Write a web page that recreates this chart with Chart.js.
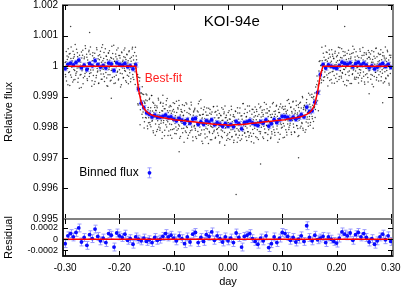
<!DOCTYPE html>
<html>
<head>
<meta charset="utf-8">
<script src="https://cdn.jsdelivr.net/npm/chart.js@4.4.1/dist/chart.umd.min.js"></script>
<style>
  html, body { margin: 0; padding: 0; background: #fff; }
  #wrap { width: 401px; height: 289px; }
</style>
</head>
<body>
<div id="wrap"><canvas id="koiChart" width="401" height="289"></canvas></div>
<script>
// Phase-folded light curve of KOI-94e, x in days from mid-transit.
// Flux values are deviations from 1 in units of 1e-5.
const binStart = -0.300;
const binStep = 0.005;

// best-fit transit model at every bin
const modelFlux = [
    0, 0, 0, 0, 0, 0, 0, 0, 0, 0, 0, 0, 0, 0, 0, 0, 0, 0, 0, 0, 0, 0, 0, 0, 0, 0, 0,
    -75, -118, -138, -149, -156, -160, -163, -165, -167, -169, -170, -172, -173, -175,
    -176, -177, -178, -179, -180, -181, -182, -183, -184, -185, -186, -187, -188, -189,
    -190, -191, -191, -192, -192, -193, -193, -192, -192, -191, -191, -190, -189, -188,
    -187, -186, -185, -184, -183, -182, -181, -180, -179, -178, -177, -176, -175, -173,
    -172, -170, -169, -167, -165, -162, -158, -152, -143, -125, -85, -30,
    0, 0, 0, 0, 0, 0, 0, 0, 0, 0, 0, 0, 0, 0, 0, 0, 0, 0, 0, 0, 0, 0, 0, 0, 0, 0
];

// binned flux minus model (the residual panel)
const binResid = [
    -8, 6, 10, 4, 12, 20, -5, 3, -11, 8, 1, 18, 5, -3, 2, -6, 10, 7, -14, 11,
    6, 3, 9, -2, 1, -9, 4, 0, -3, 2, -4, -1, -6, 3, -2, 0, 5, 10, 4, 7,
    2, -3, 6, 1, -8, 4, -5, 9, 12, -6, 3, -4, 8, 5, 13, -2, 6, 1, -5, 4,
    -3, 2, -6, 11, 3, -14, 5, 7, 10, 1, -4, -9, 2, -3, 6, -15, -8, 4, -6, 2,
    12, 10, 5, -2, 3, -5, 0, 6, -4, 24, 3, -3, 7, -1, 2, 5, -6, 4, 0, -4,
    -7, 2, 13, 9, 6, 11, -2, 8, 12, 4, 10, 3, -5, 1, -9, -3, 4, 9, -1, 6,
    -4
];
const binErr = 7;

// single cadences: residual from the model, one every 0.001 day
const rawStart = -0.300;
const rawStep = 0.001;
const rawResid = [
    12, -35, 48, -7, 22, -61, 30, 5, -18, 41, -29, 63, -4, 17, -52, 26, -11, 38, -44, 9,
    -23, 55, -6, 31, -40, 14, -72, 20, 3, -27, 46, -15, 36, -58, 8, 24, -33, 67, -2, -19,
    29, -47, 11, -9, 52, -24, 39, -13, 6, -66, 18, 44, -31, 1, 27, -50, 15, -38, 60, -8,
    -16, 34, -55, 21, -3, 49, -26, 13, -43, 70, -10, 25, -35, 4, 57, -21, 32, -64, 10, -28,
    43, -5, 19, -49, 28, -14, 65, -37, 7, 23, -57, 16, -1, 40, -30, 53, -20, 11, -45, 35,
    -12, 27, -68, 2, 46, -25, 14, -39, 31, -7, 59, -17, 22, -53, 37, -4, 18, -33, 50, -22,
    8, -41, 29, -11, 62, -36, 20, -2, 45, -60, 12, 33, -27, 5, -48, 39, -15, 26, -74, 17,
    30, -9, 51, -31, 3, 24, -44, 16, -19, 58, -6, 36, -56, 21, -13, 47, -28, 9, -38, 64,
    -20, 13, -51, 42, -3, 28, -63, 19, -8, 35, -42, 6, 54, -24, 15, -35, 49, -12, 23, -47,
    38, -16, 10, -58, 31, -1, 44, -29, 66, -10, 20, -40, 7, 27, -53, 41, -18, 2, -32, 55,
    -6, 25, -45, 14, -23, 61, -34, 9, 37, -15, 48, -59, 17, -4, 30, -26, 52, -9, 18, -70,
    33, -13, 4, -37, 56, -21, 12, -46, 26, -2, 40, -30, 63, -17, 8, -50, 21, 35, -11, 45,
    -27, 6, -54, 19, -8, 34, -41, 69, -14, 24, -36, 11, -61, 28, -5, 43, -22, 15, -48, 37,
    -3, 50, -19, 27, -65, 10, -30, 46, -7, 32, -52, 18, -12, 57, -25, 4, 39, -43, 13, -16,
    60, -28, 21, -10, 36, -56, 5, 29, -38, 14, -20, 51, -1, 42, -67, 23, -9, 31, -34, 16,
    -44, 8, 47, -24, 19, -3, 62, -39, 10, -15, 33, -50, 26, -6, 44, -31, 12, -57, 38, -18,
    2, -35, 54, -12, 28, -47, 17, -22, 68, -5, 35, -29, 9, -42, 24, -13, 59, -26, 6, -39,
    41, -8, 15, -60, 30, -2, 45, -33, 20, -17, 52, -45, 11, 37, -23, 3, -55, 27, -10, 48,
    -31, 18, -6, 39, -49, 25, -14, 64, -36, 7, 29, -11, 43, -62, 16, -27, 34, -3, 21, -53,
    13, -42, 57, -20, 5, 31, -38, 22, -9, 47, -28, 14, -71, 36, -4, 25, -46, 53, -15, 8,
    -24, 44, -12, 19, -58, 35, -1, 27, -43, 61, -16, 9, -34, 50, -21, 4, 38, -52, 17, -7,
    55, -30, 11, -48, 23, -5, 40, -26, 14, -63, 32, -10, 46, -37, 6, 28, -19, 66, -41, 20,
    -2, 34, -54, 12, -25, 49, -8, 30, -45, 18, -13, 58, -32, 3, 41, -22, 15, -60, 26, -11,
    37, -17, 7, -40, 53, -28, 21, -6, 45, -51, 10, 33, -24, 62, -14, 1, -47, 29, -35, 19,
    -9, 46, -29, 16, -65, 26, -3, 39, -21, 11, -44, 54, -18, 32, -7, 24, -56, 42, -12, 5,
    31, -50, 18, -1, 43, -34, 60, -15, 8, -39, 27, -23, 48, -10, 15, -61, 36, -5, 22, -46,
    14, -19, 52, -31, 9, -57, 24, -8, 41, -27, 65, -13, 3, -42, 30, -16, 47, -36, 12, -4,
    -38, 28, -11, 56, -22, 6, -49, 35, -2, 20, -33, 44, -59, 17, -7, 38, -25, 10, -52, 29,
    45, -14, 23, -43, 2, 50, -30, 13, -67, 32, -9, 26, -20, 59, -37, 7, -15, 42, -28, 18,
    -5, 39, -48, 21, -12, 34, -55, 8, 27, -18, 63, -41, 15, -3, 47, -32, 20, -62, 11, -24,
    36
];

// second set of cadences, half a step later
const rawStart2 = -0.2995;
const rawResid2 = [
    -27, 14, -49, 33, -8, 57, -21, 40, -63, 6, 25, -36, 18, -2, 49, -45, 31, -14, 71, -30,
    9, -18, 44, -53, 22, -5, 36, -29, 13, -70, 27, -11, 52, -38, 3, 30, -24, 58, -16, 39,
    -41, 20, -7, 47, -34, 11, 63, -22, 5, -48, 34, -13, 26, -59, 42, -1, 15, -31, 54, -19,
    24, -57, 8, 37, -15, 29, -43, 61, -6, 18, -26, 45, -50, 12, -4, 33, -39, 21, -66, 43,
    -11, 50, -28, 3, -46, 26, -9, 41, -20, 68, -35, 15, -55, 31, -2, 23, -17, 59, -42, 7,
    35, -23, 12, -61, 44, -6, 19, -37, 53, -14, 28, -48, 4, 39, -30, 10, -58, 47, -12, 25,
    -51, 16, -3, 56, -27, 34, -44, 9, -18, 62, -7, 21, -33, 48, -52, 14, -1, 37, -25, 30,
    6, -39, 27, -12, 45, -64, 20, -8, 38, -21, 55, -47, 13, -29, 2, 51, -36, 24, -10, 64,
    -17, 42, -58, 11, -4, 35, -26, 17, -49, 29, -14, 60, -32, 7, -43, 46, -20, 3, -68, 22,
    48, -9, 31, -40, 15, -22, 57, -5, 26, -55, 10, 38, -16, 44, -35, 19, -63, 28, -3, 33,
    -30, 53, -13, 6, -45, 24, -1, 41, -28, 65, -19, 12, -52, 36, -8, 27, -40, 16, -24, 50,
    4, -33, 59, -18, 28, -56, 9, -11, 43, -37, 22, -6, 54, -27, 14, -62, 32, -15, 40, -21,
    -48, 19, -2, 37, -30, 61, -12, 25, -41, 8, 47, -24, 16, -67, 29, -7, 52, -35, 11, -16,
    26, -44, 13, -5, 50, -26, 34, -53, 18, -9, 39, -31, 5, 58, -20, 21, -46, 42, -3, 31,
    -14, 47, -36, 22, -60, 9, 30, -18, 56, -42, 15, -4, 36, -25, 62, -11, 24, -50, 7, -29,
    41, -7, 20, -47, 33, -15, 51, -38, 2, 27, -58, 14, -21, 45, -33, 8, -12, 55, -43, 17,
    -22, 38, -52, 10, -6, 29, -35, 67, -17, 4, -29, 49, -8, 23, -54, 37, -26, 13, -45, 58,
    18, -31, 5, -42, 46, -20, 12, -65, 35, -10, 24, -3, 43, -49, 21, -14, 61, -30, 9, -37,
    52, -16, 31, -8, 19, -54, 40, -24, 7, -36, 57, -13, 28, -43, 3, 35, -21, 46, -57, 12,
    -35, 23, -10, 60, -29, 14, -47, 32, -4, 50, -18, 6, -39, 25, -62, 44, -9, 17, -26, 39,
    10, -58, 34, -21, 3, 44, -33, 19, -52, 29, -6, 64, -28, 11, -15, 37, -44, 22, -1, 53,
    -19, 30, -46, 15, -11, 55, -25, 8, -37, 41, -60, 20, -7, 47, -32, 13, -23, 59, -48, 26,
    32, -3, 17, -50, 38, -16, 6, -34, 63, -22, 27, -41, 9, -13, 51, -29, 40, -56, 16, -8,
    -43, 57, -20, 25, -5, 36, -61, 14, -27, 48, -10, 31, -45, 18, -2, 42, -36, 7, -19, 66,
    21, -12, 45, -38, 8, -24, 53, -47, 30, -6, 16, -55, 39, -17, 26, -31, 4, 49, -40, 13,
    -26, 35, -9, 62, -44, 19, -14, 28, -33, 57, -21, 3, -50, 34, -11, 46, -27, 15, -64, 41,
    7, -48, 24, -16, 39, -2, 30, -57, 12, -25, 44, -9, 55, -36, 20, -43, 17, -5, 33, -23,
    -55, 16, -30, 49, -13, 27, -40, 5, 61, -19, 36, -52, 9, -28, 43, -6, 24, -37, 51, -15,
    29, -4, 40, -27, 13, -59, 22, -11, 47, -34, 6, -20, 58, -45, 31, -8, 14, -49, 38, -2,
    -18, 54, -35, 11, -23, 45, -7, 33, -51, 20, -39, 26, -14, 52, -30, 9, -56, 36, -10, 28
];

// a few stray cadences far from the cloud [day, flux]
const rawOutliers = [
    [-0.290, 1.0013], [-0.255, 1.0011], [-0.215, 0.99895], [-0.120, 0.99905],
    [-0.090, 0.99720], [-0.050, 0.99890], [0.015, 0.99580], [0.060, 0.99680],
    [0.130, 0.99700], [0.215, 1.0013], [0.260, 0.99910], [0.285, 0.99880]
];

const fluxTicks = [0.995, 0.996, 0.997, 0.998, 0.999, 1, 1.001, 1.002];
const fluxLabels = ['0.995', '0.996', '0.997', '0.998', '0.999', '1', '1.001', '1.002'];
const residTicks = [-0.0002, 0, 0.0002];
const residLabels = ['-0.0002', '0', '0.0002'];
const dayTicks = [-0.3, -0.2, -0.1, 0, 0.1, 0.2, 0.3];
const dayLabels = ['-0.30', '-0.20', '-0.10', '0.00', '0.10', '0.20', '0.30'];

const U = 1e-5;
const binX = modelFlux.map((_, i) => +(binStart + i * binStep).toFixed(3));
const modelPts = binX.map((x, i) => ({ x: x, y: 1 + modelFlux[i] * U }));
const binPts = binX.map((x, i) => ({ x: x, y: 1 + (modelFlux[i] + binResid[i]) * U }));
const residPts = binX.map((x, i) => ({ x: x, y: binResid[i] * U }));

function cadences(start, resid) {
    return resid.map((r, i) => {
        const x = +(start + i * rawStep).toFixed(4);
        const b = Math.min(modelFlux.length - 1, Math.round((x - binStart) / binStep));
        return { x: x, y: 1 + (modelFlux[b] + r) * U };
    });
}
const rawPts = cadences(rawStart, rawResid)
    .concat(cadences(rawStart2, rawResid2))
    .concat(rawOutliers.map(p => ({ x: p[0], y: p[1] })));

Chart.defaults.font.family = '"Liberation Sans", Arial, sans-serif';
Chart.defaults.color = '#000';

function fixTicks(values) {
    return function(scale) {
        scale.ticks = values.map(v => ({ value: v }));
    };
}

// error bars under the blue points
const errorBarPlugin = {
    id: 'errorBars',
    beforeDatasetDraw(chart, args) {
        const ds = chart.data.datasets[args.index];
        if (!ds.errorBar) return;
        const ctx = chart.ctx;
        const ys = chart.scales[ds.yAxisID];
        ctx.save();
        ctx.strokeStyle = '#9a9aff';
        ctx.lineWidth = 1;
        ctx.beginPath();
        ds.data.forEach((p, i) => {
            const px = Math.round(args.meta.data[i].x) + 0.5;
            const t = ys.getPixelForValue(p.y + ds.errorBar);
            const b = ys.getPixelForValue(p.y - ds.errorBar);
            ctx.moveTo(px, t); ctx.lineTo(px, b);
            ctx.moveTo(px - 2, t); ctx.lineTo(px + 2, t);
            ctx.moveTo(px - 2, b); ctx.lineTo(px + 2, b);
        });
        ctx.stroke();
        ctx.restore();
    }
};

// gnuplot-like frames with inward ticks, plus the in-plot labels
const framePlugin = {
    id: 'frame',
    afterDatasetsDraw(chart) {
        const { ctx, scales: { x, y, yr } } = chart;
        ctx.save();
        [y, yr].forEach(s => {
            ctx.strokeStyle = '#808080';
            ctx.lineWidth = 2;
            ctx.strokeRect(x.left, s.top, x.right - x.left, s.bottom - s.top);
            ctx.strokeStyle = '#000';
            ctx.lineWidth = 1;
            ctx.beginPath();
            s.ticks.forEach(t => {
                const py = Math.round(s.getPixelForValue(t.value)) + 0.5;
                ctx.moveTo(x.left, py); ctx.lineTo(x.left + 5, py);
                ctx.moveTo(x.right, py); ctx.lineTo(x.right - 5, py);
            });
            x.ticks.forEach(t => {
                const px = Math.round(x.getPixelForValue(t.value)) + 0.5;
                ctx.moveTo(px, s.top); ctx.lineTo(px, s.top + 5);
                ctx.moveTo(px, s.bottom); ctx.lineTo(px, s.bottom - 5);
            });
            ctx.stroke();
        });
        ctx.strokeStyle = '#000';
        ctx.lineWidth = 1.5;
        ctx.beginPath();
        ctx.moveTo(x.left, y.top);
        ctx.lineTo(x.left, yr.bottom);
        ctx.lineTo(x.right, yr.bottom);
        ctx.stroke();

        ctx.textBaseline = 'middle';
        ctx.fillStyle = '#000';
        ctx.font = '15px "Liberation Sans", Arial, sans-serif';
        ctx.textAlign = 'center';
        ctx.fillText('KOI-94e', x.getPixelForValue(0.007), y.getPixelForValue(1.00144));

        ctx.fillStyle = '#ff2020';
        ctx.font = '12px "Liberation Sans", Arial, sans-serif';
        ctx.fillText('Best-fit', x.getPixelForValue(-0.119), y.getPixelForValue(0.999605));

        ctx.fillStyle = '#000';
        ctx.textAlign = 'left';
        ctx.fillText('Binned flux', x.getPixelForValue(-0.274), y.getPixelForValue(0.99651));

        const sx = Math.round(x.getPixelForValue(-0.1455)) + 0.5;
        const sy = y.getPixelForValue(0.99651);
        ctx.strokeStyle = '#9a9aff';
        ctx.lineWidth = 1;
        ctx.beginPath();
        ctx.moveTo(sx, sy - 5); ctx.lineTo(sx, sy + 5);
        ctx.moveTo(sx - 2, sy - 5); ctx.lineTo(sx + 2, sy - 5);
        ctx.moveTo(sx - 2, sy + 5); ctx.lineTo(sx + 2, sy + 5);
        ctx.stroke();
        ctx.fillStyle = '#0a0aff';
        ctx.beginPath();
        ctx.arc(sx, sy, 1.9, 0, Math.PI * 2);
        ctx.fill();
        ctx.restore();
    }
};

const ctx = document.getElementById('koiChart').getContext('2d');
new Chart(ctx, {
    type: 'scatter',
    data: {
        datasets: [
            {
                label: 'Raw flux',
                data: rawPts,
                yAxisID: 'y',
                pointRadius: 0.75,
                pointBorderWidth: 0,
                pointBackgroundColor: 'rgba(0, 0, 0, 0.75)',
                order: 5
            },
            {
                label: 'Binned flux',
                data: binPts,
                yAxisID: 'y',
                errorBar: binErr * U,
                pointRadius: 1.9,
                pointBorderWidth: 0,
                pointBackgroundColor: '#0a0aff',
                order: 3
            },
            {
                label: 'Best-fit',
                type: 'line',
                data: modelPts,
                yAxisID: 'y',
                borderColor: '#ff0000',
                borderWidth: 1.5,
                pointRadius: 0,
                tension: 0,
                order: 1
            },
            {
                label: 'Residual',
                data: residPts,
                yAxisID: 'yr',
                errorBar: binErr * U,
                pointRadius: 1.9,
                pointBorderWidth: 0,
                pointBackgroundColor: '#0a0aff',
                order: 3
            },
            {
                label: 'Zero',
                type: 'line',
                data: [{ x: -0.304, y: 0 }, { x: 0.304, y: 0 }],
                yAxisID: 'yr',
                borderColor: '#ff0000',
                borderWidth: 1.5,
                pointRadius: 0,
                order: 1
            }
        ]
    },
    options: {
        responsive: false,
        animation: false,
        layout: { padding: { top: 5, right: 8, left: 0, bottom: 0 } },
        plugins: {
            legend: { display: false },
            tooltip: { enabled: false }
        },
        scales: {
            x: {
                type: 'linear',
                min: -0.304,
                max: 0.304,
                afterBuildTicks: fixTicks(dayTicks),
                afterFit: s => { s.height = 33; s.paddingLeft = 0; s.paddingRight = 0; },
                grid: { display: false, drawTicks: false },
                border: { display: false },
                ticks: {
                    autoSkip: false,
                    maxRotation: 0,
                    padding: 6,
                    font: { size: 10 },
                    callback: (v, i) => dayLabels[i]
                },
                title: { display: true, text: 'day', font: { size: 11 }, padding: { top: 1, bottom: 0 } }
            },
            y: {
                type: 'linear',
                position: 'left',
                stack: 'panels',
                stackWeight: 214,
                weight: 1,
                min: 0.995,
                max: 1.002,
                afterBuildTicks: fixTicks(fluxTicks),
                afterFit: s => { s.width = 63; s.paddingTop = 0; s.paddingBottom = 0; },
                grid: { display: false, drawTicks: false },
                border: { display: false },
                ticks: {
                    autoSkip: false,
                    padding: 5,
                    font: { size: 10 },
                    callback: (v, i) => fluxLabels[i]
                },
                title: { display: true, text: 'Relative flux', font: { size: 11 }, padding: 2 }
            },
            yr: {
                type: 'linear',
                position: 'left',
                stack: 'panels',
                stackWeight: 37,
                weight: 0,
                min: -0.0003,
                max: 0.00036,
                afterBuildTicks: fixTicks(residTicks),
                afterFit: s => { s.width = 63; s.paddingTop = 0; s.paddingBottom = 0; },
                grid: { display: false, drawTicks: false },
                border: { display: false },
                ticks: {
                    autoSkip: false,
                    padding: 5,
                    font: { size: 9 },
                    callback: (v, i) => residLabels[i]
                },
                title: { display: true, text: 'Residual', font: { size: 11 }, padding: 2 }
            }
        }
    },
    plugins: [errorBarPlugin, framePlugin]
});
</script>
</body>
</html>
